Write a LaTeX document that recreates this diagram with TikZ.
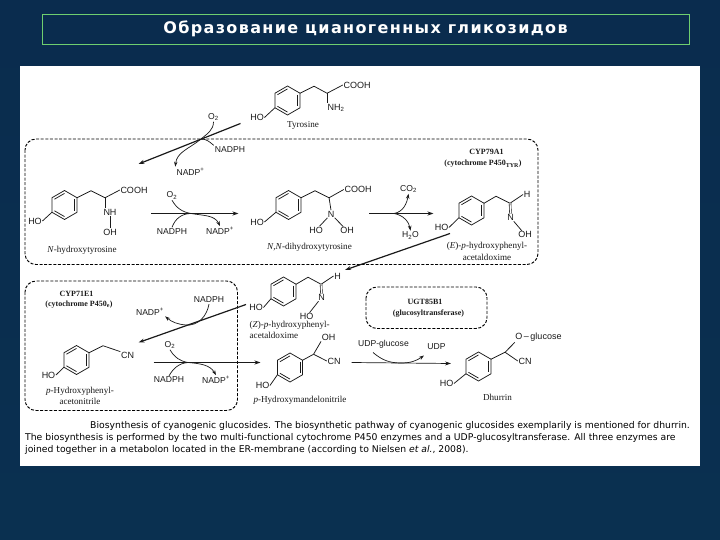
\documentclass[tikz,border=0pt]{standalone}
\usepackage{fontspec}
\setmainfont{Liberation Serif}
\setsansfont{Liberation Sans}
\newfontfamily\titlefont[LetterSpace=8.5]{DejaVu Sans Bold}
\newfontfamily\notefont{DejaVu Sans}
\usetikzlibrary{arrows.meta,calc}
\definecolor{slideblue}{HTML}{0D3A72}
\definecolor{slidetop}{HTML}{0A2C4E}
\definecolor{slidebottom}{HTML}{0A3050}
\definecolor{framegreen}{HTML}{6FCF6F}
\definecolor{inkgrey}{HTML}{1A1A1A}
\tikzset{
  bond/.style={draw=inkgrey, line width=0.75pt},
  rxn/.style={draw=inkgrey, line width=1.2pt, -{Stealth[length=6pt,width=4pt]}},
  cofin/.style={draw=inkgrey, line width=0.7pt},
  cofout/.style={draw=inkgrey, line width=0.7pt, -{Stealth[length=5pt,width=3.5pt]}},
  atom/.style={font=\sffamily\fontsize{9}{10}\selectfont, text=inkgrey, inner sep=0.5pt},
  cof/.style={font=\sffamily\fontsize{8.6}{10}\selectfont, text=inkgrey, inner sep=1pt},
  molname/.style={font=\fontsize{9.1}{11.5}\selectfont, text=inkgrey, inner sep=0.5pt, align=center},
  enzyme/.style={font=\bfseries\fontsize{8}{10}\selectfont, text=inkgrey, inner sep=0.5pt},
  enzbox/.style={draw=black, line width=0.95pt, dash pattern=on 3pt off 1.6pt, rounded corners=11pt},
  capline/.style={font=\notefont\fontsize{9.27}{10}\selectfont, text=black, anchor=west, inner sep=0pt}
}
\newcommand{\hexring}[3]{%
  \coordinate (#1-c) at (#2,#3);
  \foreach \k/\a in {1/-90,2/-30,3/30,4/90,5/150,6/-150}
    \coordinate (#1-\k) at ($(#2,#3)+(\a:14.5)$);
  \draw[bond] (#1-1) -- (#1-2) -- (#1-3) -- (#1-4) -- (#1-5) -- (#1-6) -- cycle;
  \draw[bond] ($(#1-6)!.2!(#1-c)$) -- ($(#1-1)!.2!(#1-c)$);
  \draw[bond] ($(#1-2)!.2!(#1-c)$) -- ($(#1-3)!.2!(#1-c)$);
  \draw[bond] ($(#1-5)!.2!(#1-c)$) -- ($(#1-4)!.2!(#1-c)$);
}
\begin{document}
\begin{tikzpicture}[x=1pt,y=-1pt]
  \useasboundingbox (0,0) rectangle (720,540);
  \shade[top color=slidetop, middle color=slideblue, bottom color=slidebottom] (0,0) rectangle (720,540);
  \node[draw=framegreen, line width=0.8pt, minimum width=647pt, minimum height=30pt, inner sep=0pt,
        text=white, font=\titlefont\fontsize{16}{18}\selectfont] (title) at (365.5,29) {Образование цианогенных гликозидов};
  \fill[white] (20,66) rectangle (700,466);

  \draw[enzbox] (25,139) rectangle (538,264.5);
  \draw[enzbox] (25,281) rectangle (237.5,410.5);
  \draw[enzbox] (366,287) rectangle (487,328.5);

  % tyrosine
  \hexring{tyr}{287.5}{100.5}
  \node[atom] (tyrho) at (257,117.5) {HO};
  \node[atom] (tyrcooh) at (357,85) {COOH};
  \node[atom] (tyrnh) at (336,108) {NH\textsubscript{2}};
  \node[molname] (tyrname) at (303,125) {Tyrosine};
  \draw[bond] (tyr-5) -- (tyrho.east);
  \draw[bond] (tyr-2) -- ++(14,-7) coordinate (tyra) -- ++(13,7) coordinate (tyrb) -- (tyrcooh.west);
  \draw[bond] (tyrb) -- ++(0,9.5);

  % N-hydroxytyrosine
  \hexring{nho}{64.5}{205}
  \node[atom] (nhoho) at (35,221) {HO};
  \node[atom] (nhocooh) at (134,190) {COOH};
  \node[atom] (nhonh) at (110,212) {NH};
  \node[atom] (nhooh) at (110,232) {OH};
  \node[molname] (nhoname) at (82,250) {\textit{N}-hydroxytyrosine};
  \draw[bond] (nho-5) -- (nhoho.east);
  \draw[bond] (nho-2) -- ++(14,-7) coordinate (nhoa) -- ++(14,7) coordinate (nhob) -- (nhocooh.west);
  \draw[bond] (nhob) -- (nhonh.north -| nhob);
  \draw[bond, line width=1pt] (nhonh.south) -- (nhooh.north);

  % N,N-dihydroxytyrosine
  \hexring{dih}{288.5}{205}
  \node[atom] (dihho) at (257,222) {HO};
  \node[atom] (dihcooh) at (358,189.5) {COOH};
  \node[atom] (dihn) at (331,214) {N};
  \node[atom] (dihhob) at (316,230) {HO};
  \node[atom] (dihoh) at (347,230.5) {OH};
  \node[molname] (dihname) at (309.5,247.5) {\textit{N,N}-dihydroxytyrosine};
  \draw[bond] (dih-5) -- (dihho.east);
  \draw[bond] (dih-2) -- ++(14,-7) coordinate (diha) -- ++(14,7) coordinate (dihb) -- (dihcooh.west);
  \draw[bond] (dihb) -- (dihn.north);
  \draw[bond] (dihn) -- (dihhob);
  \draw[bond] (dihn) -- (dihoh);

  % E oxime
  \hexring{eox}{471.5}{210.5}
  \node[atom] (eoxho) at (441.5,227.5) {HO};
  \node[atom] (eoxh) at (527,194.5) {H};
  \node[atom] (eoxn) at (510.5,217.5) {N};
  \node[atom] (eoxoh) at (525,234.5) {OH};
  \node[molname] (eoxname) at (487,251.5) {(\textit{E})-\textit{p}-hydroxyphenyl-\\acetaldoxime};
  \node[enzyme] (cypa) at (486.5,151.5) {CYP79A1};
  \node[enzyme] (cypb) at (483,164) {(cytochrome P450\textsubscript{TYR})};
  \draw[bond] (eox-5) -- (eoxho.east);
  \draw[bond] (eox-2) -- ++(12,-7) coordinate (eoxa) -- ++(14,7) coordinate (eoxb) -- (eoxh.west);
  \draw[bond, double, double distance=1.2pt, line width=0.6pt] (eoxb) -- (eoxn.north);
  \draw[bond] (eoxn) -- (eoxoh);

  % Z oxime
  \hexring{zox}{283.5}{291.5}
  \node[atom] (zoxho) at (256,307.5) {HO};
  \node[atom] (zoxh) at (337.5,276) {H};
  \node[atom] (zoxn) at (321.5,297.5) {N};
  \node[atom] (zoxhob) at (306.5,316.5) {HO};
  \node[molname, align=left, anchor=west] (zoxname) at (249,330) {(\textit{Z})-\textit{p}-hydroxyphenyl-\\acetaldoxime};
  \draw[bond] (zox-5) -- (zoxho.east);
  \draw[bond] (zox-2) -- ++(12,-7) coordinate (zoxa) -- ++(13,7) coordinate (zoxb) -- (zoxh.west);
  \draw[bond, double, double distance=1.2pt, line width=0.6pt] (zoxb) -- (zoxn.north);
  \draw[bond] (zoxn) -- (zoxhob);

  % acetonitrile
  \hexring{acn}{76.5}{360}
  \node[atom] (acnho) at (48.5,375) {HO};
  \node[atom] (acncn) at (127.5,355.5) {CN};
  \node[molname] (acnname) at (80,396) {\textit{p}-Hydroxyphenyl-\\acetonitrile};
  \node[enzyme] (cypc) at (76.5,293.5) {CYP71E1};
  \node[enzyme] (cypd) at (79,304.5) {(cytochrome P450\textsubscript{e})};
  \draw[bond] (acn-5) -- (acnho.east);
  \draw[bond] (acn-2) -- ++(14,-7) coordinate (acna) -- (acncn.north west);

  % mandelonitrile
  \hexring{man}{290}{367.5}
  \node[atom] (manho) at (262.5,385.5) {HO};
  \node[atom] (manoh) at (328.5,337.5) {OH};
  \node[atom] (mancn) at (334,361) {CN};
  \node[molname] (manname) at (300,400) {\textit{p}-Hydroxymandelonitrile};
  \draw[bond] (man-5) -- (manho.east);
  \draw[bond] (man-2) -- ++(11,-6) coordinate (mana);
  \draw[bond] (mana) -- (manoh.south west);
  \draw[bond] (mana) -- (mancn.west);

  % dhurrin
  \hexring{dhu}{478.5}{366.5}
  \node[atom] (dhuho) at (446.5,383.5) {HO};
  \node[atom] (dhuog) at (538.5,337.5) {O\,--\,glucose};
  \node[atom] (dhucn) at (525,361) {CN};
  \node[molname] (dhuname) at (497.5,397.5) {Dhurrin};
  \node[enzyme] (ugta) at (425,301.5) {UGT85B1};
  \node[enzyme] (ugtb) at (428.5,314) {(glucosyltransferase)};
  \draw[bond] (dhu-5) -- (dhuho.east);
  \draw[bond] (dhu-2) -- ++(14,-7) coordinate (dhua);
  \draw[bond] (dhua) -- (dhuog.south west);
  \draw[bond] (dhua) -- (dhucn.west);

  % reactions
  \coordinate (ra) at (240.5,123.5);
  \coordinate (rb) at (138.5,164);
  \coordinate (rm) at (201,139);
  \node[cof] (rao) at (213.5,117) {O\textsubscript{2}};
  \node[cof] (ran) at (230,149.5) {NADPH};
  \node[cof] (rap) at (190.5,171.5) {NADP\textsuperscript{+}};
  \draw[rxn] (ra) -- (rb);
  \draw[cofin] (rao.south) to[out=-90,in=40] (rm);
  \draw[cofin] (ran.north west) to[out=140,in=0] (rm);
  \draw[cofout] (rm) to[out=220,in=85] (rap.north west);

  \coordinate (sa) at (151,213.5);
  \coordinate (sb) at (238.5,213.5);
  \coordinate (sm) at (191,213.5);
  \node[cof] (sao) at (172,195.5) {O\textsubscript{2}};
  \node[cof] (san) at (172,231.5) {NADPH};
  \node[cof] (sap) at (220,231) {NADP\textsuperscript{+}};
  \draw[rxn] (sa) -- (sb);
  \draw[cofin] (sao.south) to[out=-60,in=170] (sm);
  \draw[cofin] (san.north) to[out=70,in=180] (sm);
  \draw[cofout] (sm) to[out=-10,in=115] (sap.north);

  \coordinate (ta) at (369,213.5);
  \coordinate (tb) at (433.5,213.5);
  \coordinate (tm) at (394,213.5);
  \node[cof] (tao) at (408.5,189) {CO\textsubscript{2}};
  \node[cof] (tah) at (410.5,235.5) {H\textsubscript{2}O};
  \draw[rxn] (ta) -- (tb);
  \draw[cofout] (tm) to[out=10,in=-100] (tao.south);
  \draw[cofout] (tm) to[out=-10,in=100] (tah.north);

  \coordinate (ua) at (450,233.5);
  \coordinate (ub) at (345,270);
  \draw[rxn] (ua) -- (ub);

  \coordinate (va) at (246,304.5);
  \coordinate (vb) at (138.5,342.5);
  \coordinate (vm) at (186,325);
  \node[cof] (van) at (209,300) {NADPH};
  \node[cof] (vap) at (150,311.5) {NADP\textsuperscript{+}};
  \draw[rxn] (va) -- (vb);
  \draw[cofin] (van.south) to[out=-100,in=-5] (vm);
  \draw[cofout] (vm) to[out=175,in=-40] (vap.south east);

  \coordinate (wa) at (153.5,362.5);
  \coordinate (wb) at (260.5,362.5);
  \coordinate (wm) at (188,362.5);
  \node[cof] (wao) at (170,345) {O\textsubscript{2}};
  \node[cof] (wan) at (169,380) {NADPH};
  \node[cof] (wap) at (216,380) {NADP\textsuperscript{+}};
  \draw[rxn, line width=0.9pt] (wa) -- (wb);
  \draw[cofin] (wao.south) to[out=-60,in=170] (wm);
  \draw[cofin] (wan.north) to[out=60,in=185] (wm);
  \draw[cofout] (wm) to[out=-5,in=120] (wap.north);

  \coordinate (xa) at (351.5,362.5);
  \coordinate (xb) at (451,363.5);
  \coordinate (xs) at (373,352.5);
  \coordinate (xm) at (401,363);
  \coordinate (xe) at (424,355.5);
  \node[cof] (xag) at (383.5,344) {UDP-glucose};
  \node[cof] (xau) at (436.5,346.5) {UDP};
  \draw[rxn, line width=0.7pt] (xa) -- (xb);
  \draw[cofin] (xs) to[out=-40,in=180] (xm);
  \draw[cofout] (xm) to[out=0,in=215] (xe);

  % caption
  \node[capline] (capa) at (90,425.5) {Biosynthesis of cyanogenic glucosides. The biosynthetic pathway of cyanogenic glucosides exemplarily is mentioned for dhurrin.};
  \node[capline] (capb) at (25,437.5) {The biosynthesis is performed by the two multi-functional cytochrome P450 enzymes and a UDP-glucosyltransferase. All three enzymes are};
  \node[capline] (capc) at (25,450) {joined together in a metabolon located in the ER-membrane (according to Nielsen \textit{et al.}, 2008).};
\end{tikzpicture}
\end{document}
